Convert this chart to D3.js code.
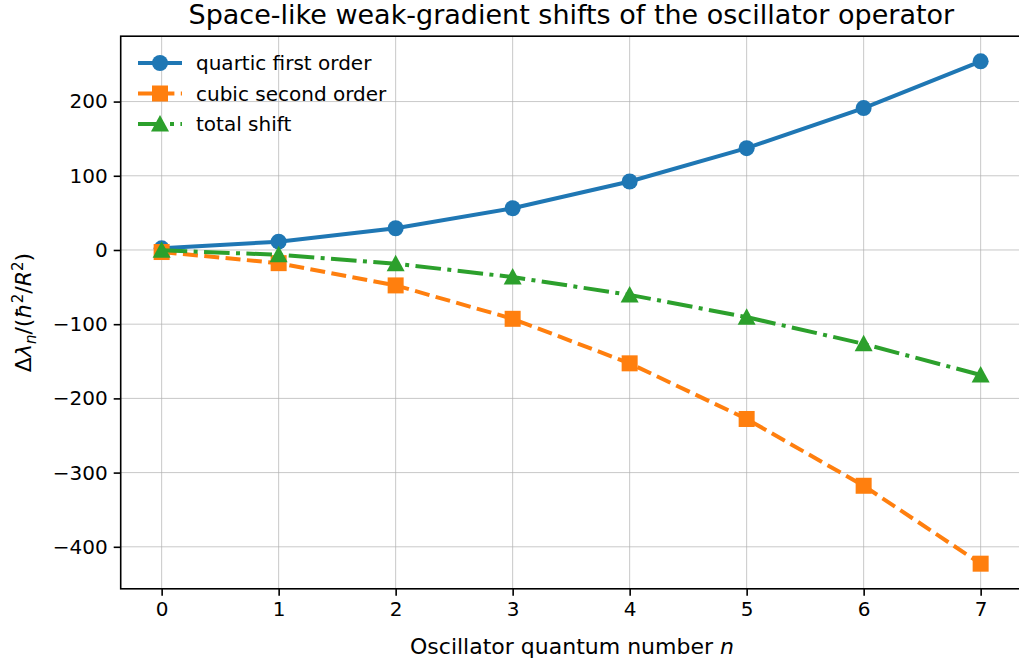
<!DOCTYPE html>
<meta charset="utf-8">
<style>
body { margin: 0; background: #fff; }
text { font-family: "DejaVu Sans", sans-serif; fill: #000; }
.grid line { stroke: #b0b0b0; stroke-opacity: 0.7; stroke-width: 1; }
</style>
<svg width="1019" height="659"></svg>
<script src="https://d3js.org/d3.v7.min.js"></script>
<script>

var nValues = [0, 1, 2, 3, 4, 5, 6, 7];
var quartic = [2.25, 11.25, 29.25, 56.25, 92.25, 137.25, 191.25, 254.25];
var cubic = [-2.75, -17.75, -47.75, -92.75, -152.75, -227.75, -317.75, -422.75];
var total = [-0.5, -6.5, -18.5, -36.5, -60.5, -90.5, -126.5, -168.5];
var yTicks = [-400, -300, -200, -100, 0, 100, 200];

var svg = d3.select("svg");
var pLeft = 120.7, pRight = 1021.6, pTop = 36.2, pBottom = 588.8;

var x = d3.scaleLinear().domain([-0.35, 7.35]).range([pLeft, pRight]);
var y = d3.scaleLinear().domain([-456.6, 288.1]).range([pBottom, pTop]);

// grid
var grid = svg.append("g").attr("class", "grid");
grid.selectAll("line.v").data(nValues).enter().append("line")
    .attr("x1", d => x(d)).attr("x2", d => x(d))
    .attr("y1", pTop).attr("y2", pBottom);
grid.selectAll("line.h").data(yTicks).enter().append("line")
    .attr("x1", pLeft).attr("x2", pRight)
    .attr("y1", d => y(d)).attr("y2", d => y(d));

// axes
var xAxis = svg.append("g").attr("transform", "translate(0," + pBottom + ")")
    .call(d3.axisBottom(x).tickValues(nValues).tickSize(7).tickPadding(6).tickFormat(d3.format("d")));
var yAxis = svg.append("g").attr("transform", "translate(" + pLeft + ",0)")
    .call(d3.axisLeft(y).tickValues(yTicks).tickSize(7).tickPadding(6)
      .tickFormat(d => d < 0 ? "\u2212" + Math.abs(d) : d));
[xAxis, yAxis].forEach(function(a) {
  a.select(".domain").remove();
  a.selectAll("text").style("font-size", "20px").attr("fill", "#000").attr("font-family", null);
  a.selectAll("line").attr("stroke", "#000").attr("stroke-width", 1.6);
});

// frame
svg.append("rect").attr("x", pLeft).attr("y", pTop)
   .attr("width", pRight - pLeft).attr("height", pBottom - pTop)
   .attr("fill", "none").attr("stroke", "#000").attr("stroke-width", 1.6);

var series = [
  {name: "quartic first order", values: quartic, color: "#1f77b4", dash: null, marker: "circle"},
  {name: "cubic second order", values: cubic, color: "#ff7f0e", dash: "15,6.4", marker: "square"},
  {name: "total shift", values: total, color: "#2ca02c", dash: "25.6,6.4,4,6.4", marker: "triangle"}
];

function drawMarker(g, kind, cx, cy, color) {
  if (kind === "circle") {
    g.append("circle").attr("cx", cx).attr("cy", cy).attr("r", 8).attr("fill", color);
  } else if (kind === "square") {
    g.append("rect").attr("x", cx - 8).attr("y", cy - 8).attr("width", 16).attr("height", 16).attr("fill", color);
  } else {
    g.append("path").attr("d", "M" + cx + "," + (cy - 9) + "L" + (cx + 9) + "," + (cy + 7.5) + "L" + (cx - 9) + "," + (cy + 7.5) + "Z")
      .attr("fill", color);
  }
}

var line = d3.line().x(d => x(d[0])).y(d => y(d[1]));
series.forEach(function(s) {
  var g = svg.append("g");
  var pts = nValues.map((n, i) => [n, s.values[i]]);
  g.append("path").datum(pts).attr("d", line)
    .attr("fill", "none").attr("stroke", s.color).attr("stroke-width", 4)
    .attr("stroke-dasharray", s.dash);
  pts.forEach(p => drawMarker(g, s.marker, x(p[0]), y(p[1]), s.color));
});

// legend
var legend = svg.append("g");
series.forEach(function(s, i) {
  var ly = 63 + i * 30.5;
  legend.append("line").attr("x1", 138).attr("x2", 182).attr("y1", ly).attr("y2", ly)
    .attr("stroke", s.color).attr("stroke-width", 4).attr("stroke-dasharray", s.dash);
  drawMarker(legend, s.marker, 160, ly, s.color);
  legend.append("text").attr("x", 196).attr("y", ly + 7).style("font-size", "20px").text(s.name);
});

// title & labels
svg.append("text").attr("x", (pLeft + 1018) / 2 + 2).attr("y", 24).attr("text-anchor", "middle")
  .style("font-size", "27px").text("Space-like weak-gradient shifts of the oscillator operator");

var xl = svg.append("text").attr("x", 572).attr("y", 654).attr("text-anchor", "middle")
  .style("font-size", "22px");
xl.append("tspan").text("Oscillator quantum number ");
xl.append("tspan").attr("font-style", "italic").text("n");

var yl = svg.append("text").attr("transform", "translate(31," + ((pTop + pBottom) / 2) + ") rotate(-90)")
  .attr("text-anchor", "middle").style("font-size", "22px");
yl.append("tspan").text("\u0394");
yl.append("tspan").attr("font-style", "italic").text("\u03bb");
yl.append("tspan").attr("font-style", "italic").attr("font-size", "15px").attr("dy", 5).text("n");
yl.append("tspan").attr("dy", -5).text("/(");
yl.append("tspan").attr("font-style", "italic").text("\u0127");
yl.append("tspan").attr("font-size", "15px").attr("dy", -8).text("2");
yl.append("tspan").attr("dy", 8).text("/");
yl.append("tspan").attr("font-style", "italic").text("R");
yl.append("tspan").attr("font-size", "15px").attr("dy", -8).text("2");
yl.append("tspan").attr("dy", 8).text(")");

</script>
